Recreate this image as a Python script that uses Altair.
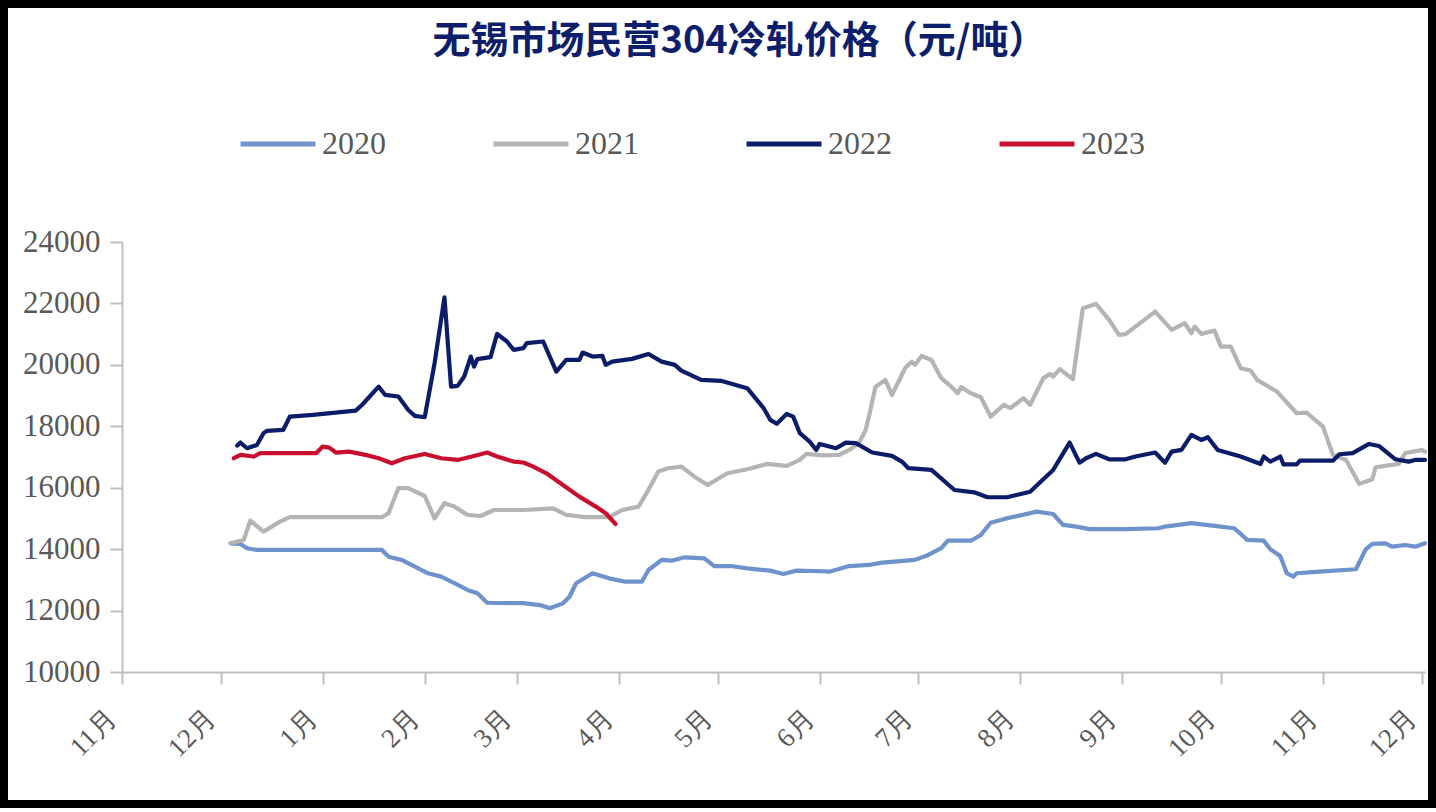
import altair as alt
import pandas as pd

TITLE = "无锡市场民营304冷轧价格（元/吨）"
SERIES = ["2020", "2021", "2022", "2023"]
COLORS = ["#6E92CB", "#B4B4B4", "#0B1C68", "#C8102E"]

# month tick labels (axis runs Nov -> Dec of the following year)
MONTHS = [(2021, 11), (2021, 12), (2022, 1), (2022, 2), (2022, 3), (2022, 4), (2022, 5),
          (2022, 6), (2022, 7), (2022, 8), (2022, 9), (2022, 10), (2022, 11), (2022, 12)]

d2020 = ["2021-12-04", "2021-12-07", "2021-12-09", "2021-12-12", "2022-01-19", "2022-01-21", "2022-01-25",
         "2022-01-29", "2022-02-02", "2022-02-06", "2022-02-10", "2022-02-14", "2022-02-17", "2022-02-20",
         "2022-03-03", "2022-03-08", "2022-03-11", "2022-03-15", "2022-03-17", "2022-03-19", "2022-03-24",
         "2022-03-29", "2022-04-03", "2022-04-08", "2022-04-10", "2022-04-14", "2022-04-17", "2022-04-21",
         "2022-04-27", "2022-04-30", "2022-05-05", "2022-05-10", "2022-05-17", "2022-05-21", "2022-05-25",
         "2022-06-02", "2022-06-04", "2022-06-10", "2022-06-16", "2022-06-20", "2022-06-30", "2022-07-04",
         "2022-07-08", "2022-07-10", "2022-07-17", "2022-07-20", "2022-07-23", "2022-07-28", "2022-08-06",
         "2022-08-11", "2022-08-14", "2022-08-18", "2022-08-22", "2022-09-02", "2022-09-12", "2022-09-14",
         "2022-09-22", "2022-09-29", "2022-10-05", "2022-10-07", "2022-10-09", "2022-10-14", "2022-10-16",
         "2022-10-19", "2022-10-21", "2022-10-23", "2022-10-24", "2022-10-31", "2022-11-11", "2022-11-14",
         "2022-11-16", "2022-11-20", "2022-11-22", "2022-11-26", "2022-11-29", "2022-12-02"]
v2020 = [14190, 14170, 14030, 13975, 13975, 13755, 13650, 13430, 13215, 13105, 12890, 12670, 12565, 12255,
         12240, 12180, 12075, 12235, 12450, 12890, 13215, 13050, 12940, 12940, 13320, 13650, 13625, 13735,
         13700, 13450, 13450, 13375, 13300, 13190, 13300, 13280, 13265, 13450, 13485, 13560, 13650, 13810,
         14030, 14275, 14275, 14460, 14860, 15005, 15220, 15145, 14790, 14735, 14650, 14650, 14680, 14735,
         14845, 14755, 14680, 14495, 14300, 14275, 13995, 13780, 13215, 13105, 13215, 13265, 13345, 13995,
         14170, 14190, 14080, 14135, 14080, 14190]

d2021 = ["2021-12-04", "2021-12-08", "2021-12-10", "2021-12-14", "2021-12-19", "2021-12-22", "2022-01-19",
         "2022-01-21", "2022-01-24", "2022-01-27", "2022-02-01", "2022-02-04", "2022-02-07", "2022-02-10",
         "2022-02-14", "2022-02-18", "2022-02-22", "2022-03-03", "2022-03-12", "2022-03-16", "2022-03-22",
         "2022-03-29", "2022-04-02", "2022-04-07", "2022-04-10", "2022-04-13", "2022-04-16", "2022-04-20",
         "2022-04-24", "2022-04-28", "2022-05-04", "2022-05-10", "2022-05-16", "2022-05-22", "2022-05-26",
         "2022-05-28", "2022-06-02", "2022-06-07", "2022-06-10", "2022-06-13", "2022-06-15", "2022-06-16",
         "2022-06-18", "2022-06-21", "2022-06-23", "2022-06-27", "2022-06-29", "2022-06-30", "2022-07-02",
         "2022-07-05", "2022-07-08", "2022-07-11", "2022-07-13", "2022-07-14", "2022-07-17", "2022-07-20",
         "2022-07-23", "2022-07-27", "2022-07-29", "2022-08-02", "2022-08-04", "2022-08-08", "2022-08-10",
         "2022-08-11", "2022-08-13", "2022-08-17", "2022-08-20", "2022-08-24", "2022-08-28", "2022-08-31",
         "2022-09-02", "2022-09-11", "2022-09-16", "2022-09-20", "2022-09-22", "2022-09-23", "2022-09-25",
         "2022-09-29", "2022-10-01", "2022-10-04", "2022-10-07", "2022-10-10", "2022-10-12", "2022-10-18",
         "2022-10-24", "2022-10-27", "2022-11-01", "2022-11-04", "2022-11-08", "2022-11-12", "2022-11-16",
         "2022-11-17", "2022-11-24", "2022-11-26", "2022-12-01", "2022-12-02"]
v2021 = [14190, 14300, 14930, 14570, 14895, 15040, 15040, 15170, 15985, 15985, 15730, 15005, 15495, 15385,
         15115, 15080, 15275, 15275, 15330, 15115, 15040, 15040, 15275, 15385, 15930, 16525, 16635, 16685,
         16360, 16090, 16470, 16600, 16775, 16710, 16905, 17100, 17050, 17070, 17230, 17450, 17880, 18315,
         19290, 19510, 19020, 19890, 20105, 20000, 20290, 20160, 19565, 19290, 19075, 19275, 19075, 18945,
         18315, 18700, 18590, 18915, 18700, 19565, 19705, 19620, 19860, 19535, 21845, 21985, 21465, 20975,
         21000, 21735, 21140, 21355, 21030, 21245, 21010, 21115, 20595, 20595, 19890, 19815, 19510, 19130,
         18425, 18445, 17990, 17070, 16905, 16125, 16275, 16665, 16775, 17125, 17230, 17175]

d2022 = ["2021-12-06", "2021-12-07", "2021-12-09", "2021-12-12", "2021-12-14", "2021-12-15", "2021-12-20",
         "2021-12-22", "2021-12-29", "2022-01-11", "2022-01-13", "2022-01-18", "2022-01-20", "2022-01-24",
         "2022-01-27", "2022-01-29", "2022-02-01", "2022-02-04", "2022-02-07", "2022-02-09", "2022-02-11",
         "2022-02-13", "2022-02-15", "2022-02-16", "2022-02-17", "2022-02-21", "2022-02-23", "2022-02-26",
         "2022-02-28", "2022-03-03", "2022-03-04", "2022-03-09", "2022-03-13", "2022-03-16", "2022-03-20",
         "2022-03-21", "2022-03-24", "2022-03-27", "2022-03-28", "2022-03-30", "2022-04-05", "2022-04-10",
         "2022-04-14", "2022-04-18", "2022-04-20", "2022-04-26", "2022-05-02", "2022-05-10", "2022-05-15",
         "2022-05-17", "2022-05-19", "2022-05-22", "2022-05-24", "2022-05-26", "2022-05-29", "2022-05-31",
         "2022-06-01", "2022-06-04", "2022-06-06", "2022-06-09", "2022-06-12", "2022-06-17", "2022-06-23",
         "2022-06-26", "2022-06-28", "2022-07-05", "2022-07-12", "2022-07-18", "2022-07-22", "2022-07-28",
         "2022-08-04", "2022-08-08", "2022-08-11", "2022-08-16", "2022-08-19", "2022-08-21", "2022-08-24",
         "2022-08-28", "2022-09-02", "2022-09-05", "2022-09-11", "2022-09-14", "2022-09-16", "2022-09-19",
         "2022-09-22", "2022-09-25", "2022-09-27", "2022-09-30", "2022-10-07", "2022-10-13", "2022-10-14",
         "2022-10-16", "2022-10-19", "2022-10-20", "2022-10-24", "2022-10-25", "2022-11-04", "2022-11-06",
         "2022-11-10", "2022-11-15", "2022-11-18", "2022-11-23", "2022-11-27", "2022-11-29", "2022-12-02"]
v2022 = [17370, 17470, 17285, 17390, 17775, 17850, 17880, 18315, 18370, 18510, 18700, 19290, 19020, 18970,
         18530, 18340, 18295, 20055, 22200, 19290, 19315, 19620, 20270, 19945, 20185, 20250, 21010, 20760,
         20490, 20545, 20705, 20760, 19780, 20160, 20160, 20400, 20270, 20290, 20000, 20105, 20195, 20355,
         20105, 20000, 19815, 19510, 19480, 19240, 18590, 18210, 18080, 18400, 18315, 17775, 17500, 17230,
         17425, 17340, 17285, 17470, 17450, 17145, 17035, 16850, 16635, 16580, 15925, 15850, 15690, 15690,
         15870, 16275, 16580, 17470, 16815, 16960, 17100, 16925, 16925, 17015, 17145, 16815, 17175, 17230,
         17720, 17555, 17645, 17230, 17015, 16775, 17015, 16850, 17015, 16760, 16760, 16880, 16880, 17090,
         17125, 17425, 17360, 16925, 16850, 16905, 16905]

d2023 = ["2021-12-05", "2021-12-07", "2021-12-11", "2021-12-13", "2021-12-30", "2022-01-01", "2022-01-03",
         "2022-01-05", "2022-01-09", "2022-01-14", "2022-01-18", "2022-01-22", "2022-01-26", "2022-02-01",
         "2022-02-06", "2022-02-11", "2022-02-16", "2022-02-20", "2022-02-23", "2022-02-28", "2022-03-03",
         "2022-03-06", "2022-03-10", "2022-03-15", "2022-03-20", "2022-03-25", "2022-03-28", "2022-03-31"]
v2023 = [16960, 17070, 17015, 17125, 17125, 17340, 17305, 17145, 17175, 17070, 16960, 16795, 16960, 17100,
         16960, 16905, 17035, 17145, 17015, 16850, 16820, 16685, 16470, 16090, 15710, 15385, 15170, 14820]

Y_TICKS = [10000, 12000, 14000, 16000, 18000, 20000, 22000, 24000]

frames = []
for name, ds, vs in [("2020", d2020, v2020), ("2021", d2021, v2021),
                     ("2022", d2022, v2022), ("2023", d2023, v2023)]:
    frames.append(pd.DataFrame({"date": ds, "value": vs, "series": name}))
df = pd.concat(frames, ignore_index=True)

month_vals = [alt.DateTime(year=y, month=m, date=1, utc=True) for y, m in MONTHS]
x_domain = [alt.DateTime(year=2021, month=11, date=1, utc=True),
            alt.DateTime(year=2022, month=12, date=2, utc=True)]

LABEL_COLOR = "#595959"
AXIS_COLOR = "#BFBFBF"

lines = alt.Chart(df).mark_line(strokeWidth=4.2, strokeJoin="round", strokeCap="round").encode(
    x=alt.X("date:T", title=None,
            scale=alt.Scale(type="utc", domain=x_domain, nice=False),
            axis=alt.Axis(values=month_vals, labelExpr="utcFormat(datum.value, '%-m') + '月'",
                          labelAngle=315, labelAlign="right", labelBaseline="bottom",
                          labelFont="Liberation Serif", labelFontSize=27, labelColor=LABEL_COLOR,
                          labelPadding=40, tickSize=12, tickWidth=2, tickColor=AXIS_COLOR,
                          domainColor=AXIS_COLOR, domainWidth=2, grid=False, labelOverlap=False,
                          labelFlush=False)),
    y=alt.Y("value:Q", title=None,
            scale=alt.Scale(domain=[10000, 24000], nice=False, zero=False),
            axis=alt.Axis(values=Y_TICKS, format="d", labelFont="Liberation Serif", labelFontSize=31,
                          labelColor=LABEL_COLOR, labelPadding=10, tickSize=12, tickWidth=2,
                          tickColor=AXIS_COLOR, domainColor=AXIS_COLOR, domainWidth=2, grid=False)),
    color=alt.Color("series:N", scale=alt.Scale(domain=SERIES, range=COLORS),
                    legend=alt.Legend(title=None, orient="none", legendX=116, legendY=-138,
                                      direction="horizontal", columns=4, symbolType="stroke",
                                      symbolSize=5625, symbolStrokeWidth=5, labelFont="Liberation Serif",
                                      labelFontSize=32, labelColor=LABEL_COLOR, labelOffset=4,
                                      columnPadding=97)),
    order=alt.Order("series:N"),
)

border = alt.Chart(pd.DataFrame({"k": [0]})).mark_rect(filled=False, stroke="black", strokeWidth=8).encode(
    x=alt.value(-118), x2=alt.value(1310), y=alt.value(-238), y2=alt.value(562)
)

chart = alt.layer(lines, border).properties(
    width=1303, height=430,
    autosize=alt.AutoSizeParams(type="none"),
    padding={"left": 122, "top": 242, "right": 11, "bottom": 140},
    title=alt.TitleParams(TITLE, font="Noto Sans CJK SC", fontSize=38, fontWeight="bold",
                          color="#0D1E6B", anchor="middle", frame="group", dx=-34, dy=61, offset=0),
    background="white",
).configure_view(strokeWidth=0)

chart.save("out.html", embed_options={"renderer": "svg", "actions": False})
